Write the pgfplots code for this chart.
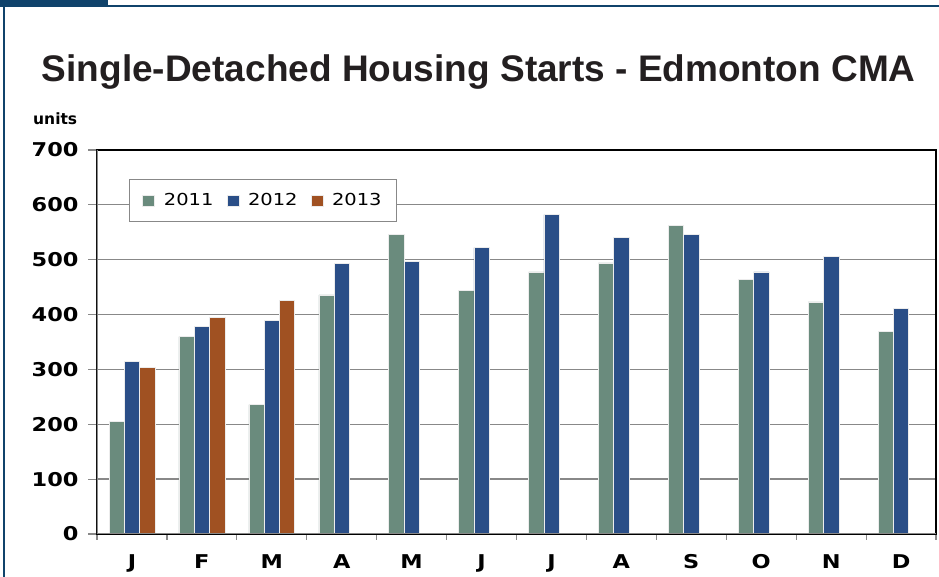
\documentclass[border=0pt]{standalone}
\usepackage{fontspec}
\usepackage{pgfplots}
\pgfplotsset{compat=1.18}
\setmainfont{DejaVu Sans}
\newfontfamily\titlefont{Liberation Sans}
\newfontfamily\tickfont{DejaVu Sans}[FakeStretch=1.18]
\newfontfamily\legfont{DejaVu Sans}[FakeStretch=1.18]
\definecolor{c11}{RGB}{106,139,125}
\definecolor{c12}{RGB}{42,78,135}
\definecolor{c13}{RGB}{160,81,34}
\definecolor{framec}{RGB}{16,67,107}
\definecolor{gridc}{RGB}{136,136,136}
\definecolor{titlec}{RGB}{35,31,32}
\pgfplotsset{sqlegend/.style={legend image code/.code={\fill[##1] (0bp,-5.5bp) rectangle (12bp,5.5bp);}}}
\begin{document}
\begin{tikzpicture}[x=1bp,y=1bp]
\useasboundingbox (-97,-43) rectangle (842,534);
\fill[framec] (-97,527) rectangle (11,534);
\fill[framec] (-97,527) rectangle (842,529);
\fill[framec] (-94,-43) rectangle (-92,529);
\node[anchor=base west, inner sep=0, font=\titlefont\bfseries\fontsize{37bp}{40bp}\selectfont, text=titlec] at (-55.3,452) {Single-Detached Housing Starts - Edmonton CMA};
\node[anchor=base west, inner sep=0, font=\bfseries\fontsize{15.5bp}{18bp}\selectfont] at (-64,409) {units};
\begin{axis}[
  at={(0,0)}, anchor=south west,
  scale only axis, width=839bp, height=384bp,
  xmin=-0.5, xmax=11.5, ymin=0, ymax=700,
  ybar=0pt, bar width=15.3bp,
  xtick={0,...,11}, xticklabels={J,F,M,A,M,J,J,A,S,O,N,D},
  major x tick style={draw=none},
  minor xtick={-0.5,0.5,...,11.5},
  ytick={0,100,...,700}, yticklabels={0,100,200,300,400,500,600,700},
  xtick pos=bottom, ytick pos=left,
  tick align=outside, major tick length=9bp, minor tick length=6bp,
  tick style={gridc, line width=1.2bp},
  ymajorgrids, grid style={gridc, line width=1.3bp},
  axis line style={black, line width=1.3bp},
  xticklabel style={font=\tickfont\bfseries\fontsize{19bp}{22bp}\selectfont, anchor=base, yshift=-26bp},
  yticklabel style={font=\tickfont\bfseries\fontsize{19bp}{22bp}\selectfont, anchor=east, xshift=-6bp},
  legend columns=3,
  legend style={at={(0.038,0.9245)}, anchor=north west, draw=gridc, line width=1.2bp,
    font=\legfont\fontsize{16.5bp}{18bp}\selectfont,
    /tikz/every odd column/.append style={column sep=7bp},
    /tikz/every even column/.append style={column sep=11bp},
    inner xsep=13bp, inner ysep=12bp},
]
\addplot[fill=c11, draw=white!85!gray, line width=0.5bp, sqlegend] coordinates {
(0,205) (1,360) (2,236) (3,436) (4,546) (5,444) (6,478) (7,494) (8,562) (9,464) (10,423) (11,369)};
\addplot[fill=c12, draw=white!85!gray, line width=0.5bp, sqlegend] coordinates {
(0,314) (1,378) (2,390) (3,493) (4,497) (5,522) (6,582) (7,541) (8,546) (9,478) (10,506) (11,411)};
\addplot[fill=c13, draw=white!85!gray, line width=0.5bp, sqlegend] coordinates {
(0,304) (1,395) (2,426)};
\legend{2011,2012,2013}
\draw[gridc, line width=1.3bp] (rel axis cs:0,1) -- (rel axis cs:0,0) -- (rel axis cs:1,0);
\end{axis}
\end{tikzpicture}
\end{document}
